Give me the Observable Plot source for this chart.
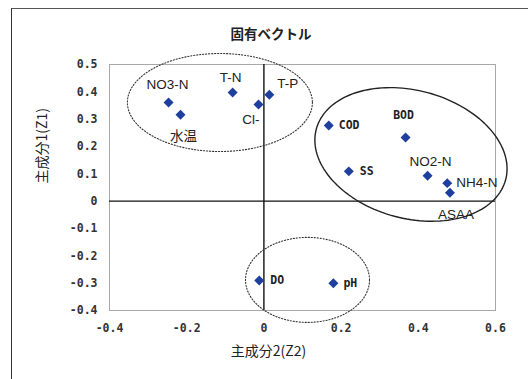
<!DOCTYPE html>
<html><head><meta charset="utf-8">
<script src="https://cdn.jsdelivr.net/npm/d3@7"></script>
<script src="https://cdn.jsdelivr.net/npm/@observablehq/plot@0.6"></script>
<style>
body{margin:0;background:#fff;}
#wrap{position:relative;width:528px;height:379px;overflow:hidden;background:#fff;}
#frame{position:absolute;left:11px;top:8px;width:600px;height:500px;border-left:1.5px solid #333;border-top:1.5px solid #555;}
#title{position:absolute;top:23px;left:0;width:542px;text-align:center;font:bold 13.5px "Noto Sans CJK JP";color:#222;}
#chart svg{position:absolute;left:0;top:0;}
</style></head>
<body>
<div id="wrap"><div id="frame"></div><div id="title">固有ベクトル</div><div id="chart"></div></div>
<script>
// ---- data ----
const variables = ["NO3-N","水温","T-N","Cl-","T-P","COD","BOD","SS","NO2-N","NH4-N","ASAA","DO","pH"];
const z2 = [-0.247,-0.216,-0.081,-0.014,0.014,0.168,0.367,0.220,0.424,0.475,0.482,-0.012,0.180];
const z1 = [0.361,0.316,0.398,0.354,0.389,0.277,0.233,0.109,0.093,0.066,0.031,-0.290,-0.300];
const xTicks = [-0.4,-0.2,0,0.2,0.4,0.6];
const yTicks = [0.5,0.4,0.3,0.2,0.1,0,-0.1,-0.2,-0.3,-0.4];
const title = "固有ベクトル";
const xLabel = "主成分2(Z2)";
const yLabel = "主成分1(Z1)";
// group ellipses (centre in data units)
const groupNames = ["group1","group2","group3"];
const groupCx = [-0.114, 0.381, 0.113];
const groupCy = [0.361, 0.171, -0.288];

// ---- layout / style ----
const W = 528, H = 379, mL = 109, mR = 33, mT = 64, mB = 69;
const xDom = [-0.4, 0.6], yDom = [-0.4, 0.5];
const kx = (W - mL - mR) / (xDom[1] - xDom[0]);
const ky = (H - mT - mB) / (yDom[1] - yDom[0]);
// semi-axes in pixels, rotation (deg), dashed?
const groupShape = [
  {a: 92.5, b: 49, rot: 0, dash: "1.2,1.8", w: 1.1, c: "#333"},
  {a: 98, b: 64, rot: 15, dash: null, w: 1.4, c: "#222"},
  {a: 62, b: 42.5, rot: 0, dash: "1.2,1.8", w: 1.1, c: "#333"}
];
const labelPos = {
  "NO3-N": {dx: -1, dy: -18, anchor: "middle", bold: false},
  "水温": {dx: 3, dy: 22, anchor: "middle", bold: false},
  "T-N": {dx: -2, dy: -15, anchor: "middle", bold: false},
  "Cl-": {dx: -7.5, dy: 15, anchor: "middle", bold: false},
  "T-P": {dx: 8, dy: -11, anchor: "start", bold: false},
  "COD": {dx: 10, dy: 0, anchor: "start", bold: true},
  "BOD": {dx: -2, dy: -22, anchor: "middle", bold: true},
  "SS": {dx: 11, dy: 0, anchor: "start", bold: true},
  "NO2-N": {dx: 3, dy: -14, anchor: "middle", bold: false},
  "NH4-N": {dx: 9, dy: 0, anchor: "start", bold: false},
  "ASAA": {dx: 6, dy: 22, anchor: "middle", bold: false},
  "DO": {dx: 11, dy: 0, anchor: "start", bold: true},
  "pH": {dx: 10, dy: 0, anchor: "start", bold: true}
};

const points = variables.map((v, i) => ({name: v, x: z2[i], y: z1[i]}));

function ellipse(i) {
  const s = groupShape[i], th = s.rot * Math.PI / 180, pts = [];
  for (let k = 0; k <= 144; k++) {
    const t = 2 * Math.PI * k / 144;
    const px = s.a * Math.cos(t) * Math.cos(th) - s.b * Math.sin(t) * Math.sin(th);
    const py = s.a * Math.cos(t) * Math.sin(th) + s.b * Math.sin(t) * Math.cos(th);
    pts.push({x: groupCx[i] + px / kx, y: groupCy[i] - py / ky});
  }
  return pts;
}
const fmt = d => d === 0 ? "0" : d.toFixed(1);
const monoFont = "'DejaVu Sans Mono', monospace";
const sansFont = "'Liberation Sans', 'Noto Sans CJK JP', sans-serif";

const marks = [
  Plot.frame({stroke: "#a8a8a8", strokeWidth: 1}),
  Plot.ruleX([0], {stroke: "#111", strokeWidth: 1.4}),
  Plot.ruleY([0], {stroke: "#111", strokeWidth: 1.4}),
  Plot.axisX(xTicks, {tickSize: 0, tickPadding: 13, tickFormat: fmt, fontFamily: monoFont, fontWeight: "bold", fontSize: 11.5, fill: "#333", label: null}),
  Plot.axisY(yTicks, {tickSize: 0, tickPadding: 12, tickFormat: fmt, fontFamily: monoFont, fontWeight: "bold", fontSize: 11.5, fill: "#333", label: null}),
  ...groupNames.map((g, i) => Plot.line(ellipse(i), {x: "x", y: "y", stroke: groupShape[i].c, strokeWidth: groupShape[i].w, strokeDasharray: groupShape[i].dash, curve: "linear"})),
  Plot.dot(points, {x: "x", y: "y", symbol: "diamond2", r: 4.5, fill: "#1f3f9f", stroke: "none"}),
  ...points.map(p => {
    const L = labelPos[p.name];
    return Plot.text([p], {x: "x", y: "y", text: "name", dx: L.dx, dy: L.dy, textAnchor: L.anchor,
      fontFamily: L.bold ? monoFont : sansFont, fontWeight: L.bold ? "bold" : "normal",
      fontSize: L.bold ? 11.5 : 13.5, fill: "#222"});
  }),
  Plot.text([xLabel], {text: d => d, frameAnchor: "bottom", dx: -34, dy: 45, fontFamily: "'Noto Sans CJK JP'", fontSize: 14, fill: "#222"}),
  Plot.text([yLabel], {text: d => d, frameAnchor: "left", dx: -67, dy: -4, rotate: -90, fontFamily: "'Noto Sans CJK JP'", fontSize: 14, fill: "#222"})
];

const chart = Plot.plot({
  width: W, height: H,
  marginLeft: mL, marginRight: mR, marginTop: mT, marginBottom: mB,
  x: {domain: xDom},
  y: {domain: yDom},
  style: {background: "transparent", overflow: "visible"},
  marks
});
document.getElementById("chart").appendChild(chart);
</script>
</body></html>
